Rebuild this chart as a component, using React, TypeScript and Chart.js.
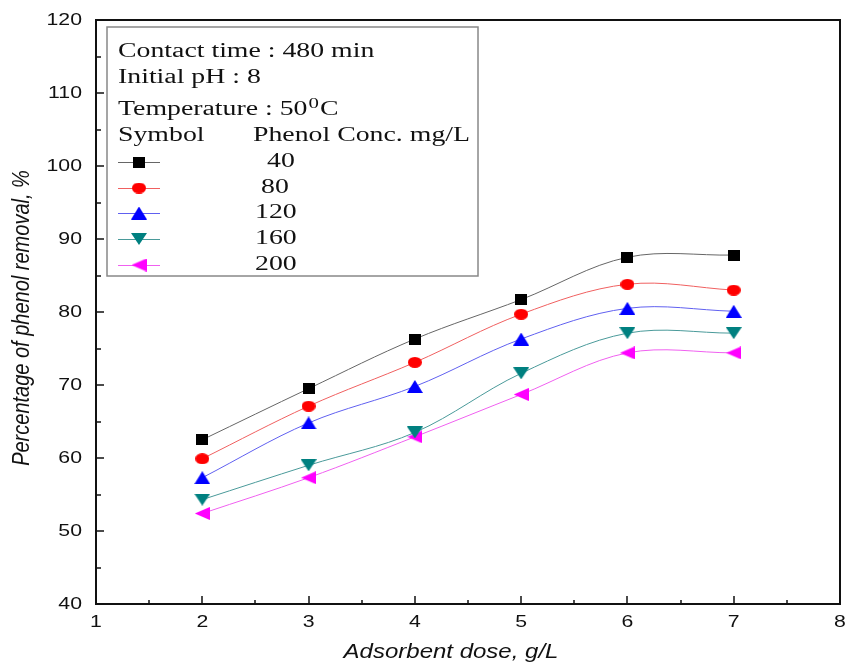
import React, { useEffect, useRef } from 'react';
import { Chart, registerables } from 'chart.js';

Chart.register(...registerables);

const W = 848;
const H = 664;

// ---- data ----
const doses = [2, 3, 4, 5, 6, 7];
const conc40 = [62.5, 69.5, 76.3, 81.7, 87.5, 87.8];
const conc80 = [59.9, 67.1, 73.1, 79.7, 83.8, 83.0];
const conc120 = [57.3, 64.8, 69.8, 76.3, 80.5, 80.1];
const conc160 = [54.3, 59.0, 63.5, 71.6, 77.1, 77.1];
const conc200 = [52.4, 57.3, 62.9, 68.7, 74.4, 74.4];
const seriesLabels = ['40', '80', '120', '160', '200'];
const seriesColors = ['#000000', '#ff0000', '#0000ff', '#008080', '#ff00ff'];
const lineColors = ['#666666', '#f06060', '#6060f0', '#4a9a9a', '#f060f0'];
const seriesShapes = ['square', 'circle', 'up', 'down', 'left'];

const xMajorTicks = [1, 2, 3, 4, 5, 6, 7, 8];
const xMinorTicks = [1.5, 2.5, 3.5, 4.5, 5.5, 6.5, 7.5];
const yMajorTicks = [40, 50, 60, 70, 80, 90, 100, 110, 120];
const yMinorTicks = [45, 55, 65, 75, 85, 95, 105, 115];

const infoLines = ['Contact time : 480 min', 'Initial pH : 8'];
const xTitle = 'Adsorbent dose, g/L';
const yTitle = 'Percentage of phenol removal, %';

function makeMarker(shape: string, color: string): HTMLCanvasElement {
  const dims: Record<string, [number, number]> = {
    square: [12, 11],
    circle: [14, 11],
    up: [16, 13],
    down: [16, 12],
    left: [15, 13],
  };
  const [w, h] = dims[shape];
  const c = document.createElement('canvas');
  c.width = w;
  c.height = h;
  const g = c.getContext('2d')!;
  g.fillStyle = color;
  g.beginPath();
  if (shape === 'square') g.rect(0, 0, w, h);
  else if (shape === 'circle') g.ellipse(w / 2, h / 2, w / 2, h / 2, 0, 0, Math.PI * 2);
  else if (shape === 'up') { g.moveTo(w / 2, 0); g.lineTo(w, h); g.lineTo(0, h); }
  else if (shape === 'down') { g.moveTo(0, 0); g.lineTo(w, 0); g.lineTo(w / 2, h); }
  else if (shape === 'left') { g.moveTo(0, h / 2); g.lineTo(w, 0); g.lineTo(w, h); }
  g.closePath();
  g.fill();
  return c;
}

function stretchText(ctx: CanvasRenderingContext2D, text: string, x: number, y: number, sx: number, align: CanvasTextAlign) {
  ctx.save();
  ctx.translate(x, y);
  ctx.scale(sx, 1);
  ctx.textAlign = align;
  ctx.fillText(text, 0, 0);
  ctx.restore();
}

export default function App() {
  const ref = useRef<HTMLCanvasElement>(null);

  useEffect(() => {
    const canvas = ref.current!;
    const markers = seriesShapes.map((s, i) => makeMarker(s, seriesColors[i]));
    const allSeries = [conc40, conc80, conc120, conc160, conc200];

    const decor = {
      id: 'decor',
      afterDraw(chart: any) {
        const ctx: CanvasRenderingContext2D = chart.ctx;
        const { left, right, top, bottom } = chart.chartArea;
        const xs = chart.scales.x;
        const ys = chart.scales.y;
        ctx.save();
        // frame
        ctx.strokeStyle = '#111';
        ctx.lineWidth = 2;
        ctx.strokeRect(left, top, right - left, bottom - top);
        // ticks (inward)
        ctx.lineWidth = 1.5;
        ctx.beginPath();
        xMajorTicks.forEach(v => { const px = Math.round(xs.getPixelForValue(v)); ctx.moveTo(px, bottom); ctx.lineTo(px, bottom - 8); });
        xMinorTicks.forEach(v => { const px = Math.round(xs.getPixelForValue(v)); ctx.moveTo(px, bottom); ctx.lineTo(px, bottom - 4); });
        yMajorTicks.forEach(v => { const py = Math.round(ys.getPixelForValue(v)); ctx.moveTo(left, py); ctx.lineTo(left + 8, py); });
        yMinorTicks.forEach(v => { const py = Math.round(ys.getPixelForValue(v)); ctx.moveTo(left, py); ctx.lineTo(left + 5, py); });
        ctx.stroke();

        // tick labels
        ctx.fillStyle = '#111';
        ctx.font = '17px "Liberation Sans", Arial, sans-serif';
        ctx.textBaseline = 'middle';
        xMajorTicks.forEach(v => stretchText(ctx, String(v), xs.getPixelForValue(v), bottom + 18, 1.25, 'center'));
        yMajorTicks.forEach(v => stretchText(ctx, String(v), left - 14, ys.getPixelForValue(v), 1.25, 'right'));

        // axis titles
        ctx.font = 'italic 20px "Liberation Sans", Arial, sans-serif';
        stretchText(ctx, xTitle, (left + right) / 2 - 17, 652, 1.2, 'center');
        ctx.save();
        ctx.translate(22, 318);
        ctx.scale(1.2, 1);
        ctx.rotate(-Math.PI / 2);
        ctx.textAlign = 'center';
        ctx.fillText(yTitle, 0, 0);
        ctx.restore();

        // legend box
        ctx.strokeStyle = '#888';
        ctx.lineWidth = 1.5;
        ctx.strokeRect(107, 27, 371, 249);
        ctx.fillStyle = '#111';
        const sx = 1.39;
        ctx.font = '20px "Liberation Serif", "Times New Roman", serif';
        ctx.textBaseline = 'middle';
        stretchText(ctx, infoLines[0], 118, 52, sx, 'left');
        stretchText(ctx, infoLines[1], 118, 78, sx, 'left');
        // Temperature with superscript
        const t1 = 'Temperature : 50';
        stretchText(ctx, t1, 118, 110, sx, 'left');
        const w1 = ctx.measureText(t1).width * sx;
        ctx.font = '15px "Liberation Serif", "Times New Roman", serif';
        stretchText(ctx, '0', 118 + w1 + 1, 104, sx, 'left');
        const w2 = ctx.measureText('0').width * sx;
        ctx.font = '20px "Liberation Serif", "Times New Roman", serif';
        stretchText(ctx, 'C', 118 + w1 + w2 + 2, 110, sx, 'left');
        stretchText(ctx, 'Symbol', 118, 136, sx, 'left');
        stretchText(ctx, 'Phenol Conc. mg/L', 253, 136, sx, 'left');
        const rowY = [162, 188, 213, 239, 265];
        const numX = [267, 261, 255, 255, 255];
        seriesLabels.forEach((lab, i) => {
          const y = rowY[i];
          ctx.strokeStyle = lineColors[i];
          ctx.lineWidth = 1;
          ctx.beginPath();
          ctx.moveTo(118, y + 0.5);
          ctx.lineTo(160, y + 0.5);
          ctx.stroke();
          const m = markers[i];
          ctx.drawImage(m, 139 - m.width / 2, y - m.height / 2);
          ctx.fillStyle = '#111';
          stretchText(ctx, lab, numX[i], y, sx, 'left');
        });
        ctx.restore();
      },
    };

    const chart = new Chart(canvas, {
      type: 'line',
      data: {
        datasets: allSeries.map((vals, i) => ({
          label: seriesLabels[i],
          data: doses.map((d, j) => ({ x: d, y: vals[j] })),
          borderColor: lineColors[i],
          backgroundColor: seriesColors[i],
          borderWidth: 1,
          tension: 0.35,
          pointStyle: markers[i],
          pointRadius: 7,
          clip: false,
        })),
      },
      options: {
        responsive: false,
        animation: false,
        devicePixelRatio: 1,
        layout: { padding: { left: 0, top: 20, right: 7, bottom: 0 } },
        plugins: { legend: { display: false }, tooltip: { enabled: false }, title: { display: false } },
        scales: {
          x: {
            type: 'linear', min: 1, max: 8,
            ticks: { display: false },
            grid: { display: false },
            border: { display: false },
            afterFit: (s: any) => { s.height = 60; },
          },
          y: {
            type: 'linear', min: 40, max: 120,
            ticks: { display: false },
            grid: { display: false },
            border: { display: false },
            afterFit: (s: any) => { s.width = 96; },
          },
        },
      },
      plugins: [decor],
    } as any);
    return () => chart.destroy();
  }, []);

  return (
    <div style={{ position: 'absolute', left: 0, top: 0, width: W, height: H, background: '#fff' }}>
      <canvas ref={ref} width={W} height={H} style={{ display: 'block', width: W, height: H }} />
    </div>
  );
}
